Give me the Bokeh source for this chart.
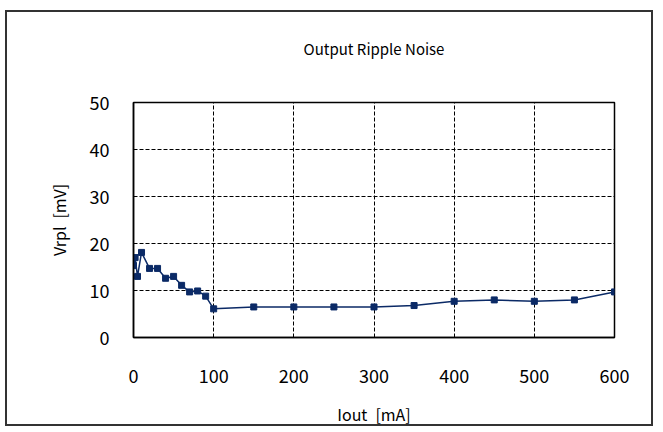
from bokeh.plotting import figure
from bokeh.models import FixedTicker, Range1d, LinearAxis
from bokeh.embed import file_html
from bokeh.resources import INLINE

iout_ma = [0, 2, 5, 10, 20, 30, 40, 50, 60, 70, 80, 90, 100, 150, 200, 250, 300, 350, 400, 450, 500, 550, 600]
vrpl_mv = [15.3, 17.0, 13.0, 18.1, 14.7, 14.7, 12.6, 13.0, 11.1, 9.7, 9.9, 8.8, 6.1, 6.5, 6.5, 6.5, 6.5, 6.8, 7.7, 8.0, 7.7, 8.0, 9.7]
x_ticks = [0, 100, 200, 300, 400, 500, 600]
y_ticks = [0, 10, 20, 30, 40, 50]
chart_title = "Output Ripple Noise"

FONT = "Noto Sans CJK JP"
NAVY = "#0b2a66"

p = figure(width=648, height=416, output_backend="svg", toolbar_location=None,
           x_range=Range1d(0, 600), y_range=Range1d(0, 50),
           min_border_left=126, min_border_right=41, min_border_top=90, min_border_bottom=88)
p.styles = {"border": "2px solid #333333", "margin-left": "5px", "margin-top": "10px"}
p.background_fill_color = "white"
p.border_fill_color = "white"
p.outline_line_color = "black"
p.outline_line_width = 1.5

for ax in (p.xaxis, p.yaxis):
    ax.axis_line_color = "black"
    ax.axis_line_width = 1.5
    ax.major_tick_line_color = None
    ax.minor_tick_line_color = None
    ax.major_label_text_font = FONT
    ax.major_label_text_font_size = "18px"
    ax.major_label_text_color = "black"
    ax.axis_label_text_font = FONT
    ax.axis_label_text_font_size = "16px"
    ax.axis_label_text_font_style = "normal"
    ax.axis_label_text_color = "black"

p.xaxis.ticker = FixedTicker(ticks=x_ticks)
p.yaxis.ticker = FixedTicker(ticks=y_ticks)
p.xaxis.major_label_standoff = 25
p.yaxis.major_label_standoff = 18

p.xaxis.axis_label = "Iout\u2002[mA]"
p.xaxis.axis_label_standoff = 16
p.yaxis.axis_label = "Vrpl\u2002[mV]"
p.yaxis.axis_label_standoff = 16

for g in (p.xgrid, p.ygrid):
    g.grid_line_color = "black"
    g.grid_line_dash = "4 2"
    g.grid_line_width = 1

p.line(iout_ma, vrpl_mv, line_color=NAVY, line_width=1.5)
p.scatter(iout_ma, vrpl_mv, marker="square", size=6, fill_color=NAVY, line_color=NAVY)

# chart title drawn as the label of an empty axis above the frame
title_axis = LinearAxis(ticker=FixedTicker(ticks=[]), axis_label=chart_title,
                        axis_line_color=None, major_tick_line_color=None,
                        minor_tick_line_color=None, major_tick_out=0, major_tick_in=0,
                        major_label_standoff=0, axis_label_standoff=44,
                        axis_label_text_font=FONT, axis_label_text_font_size="15px",
                        axis_label_text_font_style="normal", axis_label_text_color="black")
p.add_layout(title_axis, "above")

open("out.html", "w").write(file_html(p, INLINE))
